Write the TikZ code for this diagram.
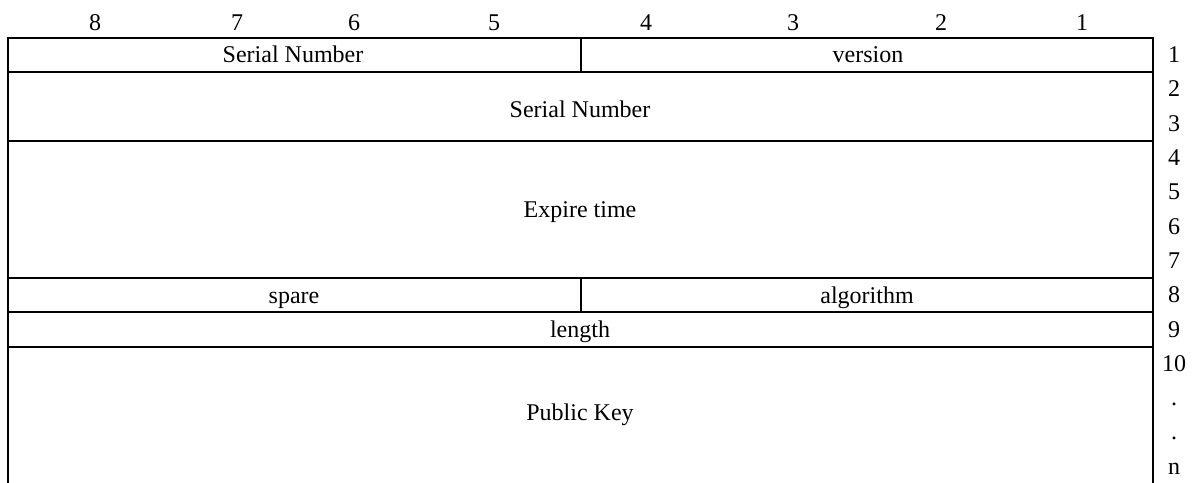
\documentclass[tikz,border=0pt]{standalone}
\usepackage{fontspec}
\setmainfont{Liberation Serif}
\begin{document}
\begin{tikzpicture}[x=1pt,y=-1pt,
  frame/.style={line width=2pt,line cap=rect},
  lbl/.style={font=\fontsize{24}{28}\selectfont,inner sep=0pt,anchor=base}]
\useasboundingbox (0,0) rectangle (1198,482);
% field layout: left edge, centre split, right edge
\def\xl{7.5}\def\xm{581}\def\xr{1153}
% vertical borders (open at the bottom)
\draw[frame] (\xl,37.5) -- (\xl,482);
\draw[frame] (\xr,37.5) -- (\xr,482);
% horizontal row separators
\foreach \y in {37.5,71.5,140.5,277.5,312,346.5}
  \draw[frame] (\xl,\y) -- (\xr,\y);
% split cells
\draw[frame] (\xm,37.5) -- (\xm,71.5);
\draw[frame] (\xm,277.5) -- (\xm,312);
% bit numbers
\foreach \x/\t in {95/8,237/7,354/6,494/5,646/4,793/3,941/2,1082/1}
  \node[lbl] (bit\t) at (\x,30) {\t};
% octet numbers
\foreach \i/\t in {1/1,2/2,3/3,4/4,5/5,6/6,7/7,8/8,9/9,10/10,11/.,12/.,13/n}
  \node[lbl] (oct\i) at (1174,{37.5+34.3*(\i-0.5)+8}) {\t};
% field names
\node[lbl] (sn1)  at (293,62.5)  {Serial Number};
\node[lbl] (ver)  at (868,62.5)  {version};
\node[lbl] (sn2)  at (580,117)   {Serial Number};
\node[lbl] (exp)  at (580,217)   {Expire time};
\node[lbl] (spr)  at (294,303)   {spare};
\node[lbl] (alg)  at (867,303)   {algorithm};
\node[lbl] (len)  at (580,337)   {length};
\node[lbl] (pk)   at (580,420)   {Public Key};
\end{tikzpicture}
\end{document}
